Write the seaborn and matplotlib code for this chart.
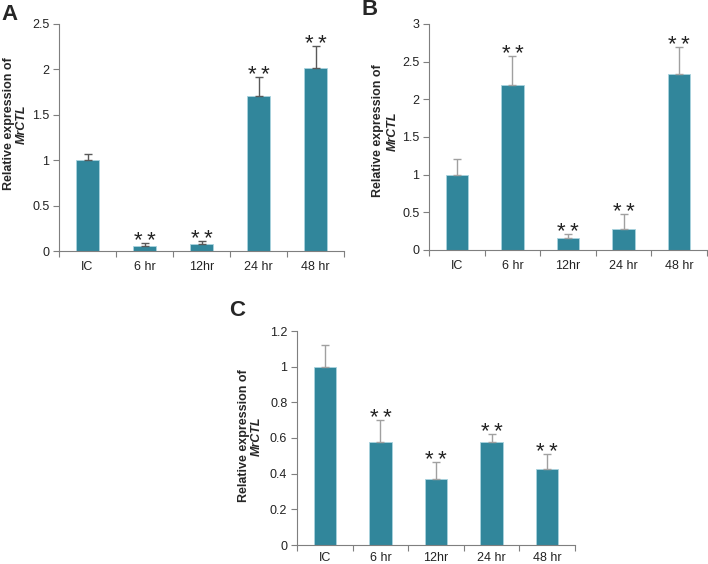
import numpy as np
import pandas as pd
import matplotlib
matplotlib.use("Agg")
import matplotlib.pyplot as plt
import seaborn as sns
from matplotlib.ticker import FixedLocator, FuncFormatter

sns.set_style("white")
plt.rcParams['font.family'] = ['Liberation Sans', 'DejaVu Sans']

categories = ["IC", "6 hr", "12hr", "24 hr", "48 hr"]

a_values = [1.0, 0.06, 0.075, 1.71, 2.01]
a_err = [0.07, 0.03, 0.03, 0.21, 0.25]
a_marks = ["", "**", "**", "**", "**"]
a_yticks = [0, 0.5, 1, 1.5, 2, 2.5]

b_values = [1.0, 2.19, 0.165, 0.283, 2.33]
b_err = [0.21, 0.39, 0.045, 0.20, 0.37]
b_marks = ["", "**", "**", "**", "**"]
b_yticks = [0, 0.5, 1, 1.5, 2, 2.5, 3]

c_values = [1.0, 0.58, 0.37, 0.58, 0.424]
c_err = [0.12, 0.123, 0.097, 0.044, 0.085]
c_marks = ["", "**", "**", "**", "**"]
c_yticks = [0, 0.2, 0.4, 0.6, 0.8, 1.0, 1.2]

panel_letters = ["A", "B", "C"]
ylabel_line1 = "Relative expression of"
ylabel_line2 = "MrCTL"

BAR = "#31869B"
W, H = 708, 564
fig = plt.figure(figsize=(W / 100, H / 100), dpi=100)


def px_axes(left, right, top, bottom):
    return fig.add_axes([left / W, 1 - bottom / H, (right - left) / W, (bottom - top) / H])


def panel(ax, values, err, marks, yticks, ecolor, letter, letter_xy, label_y, label_x, xpad=7):
    df = pd.DataFrame({"cat": categories, "val": values})
    sns.barplot(data=df, x="cat", y="val", color=BAR, saturation=1, width=0.4,
                errorbar=None, ax=ax, edgecolor="#a9d3df", linewidth=0.6)
    x = np.arange(len(categories))
    ax.errorbar(x, values, yerr=[np.zeros(len(values)), err], fmt="none",
                ecolor=ecolor, elinewidth=1.0, capsize=3, capthick=1.0, zorder=1)
    for xi, v, e, m in zip(x, values, err, marks):
        if m:
            ax.annotate("\u2009".join(m), xy=(xi, v + e), xytext=(0, -4),
                        textcoords="offset pixels", ha="center", va="baseline",
                        fontsize=16, color="#222222")
    ax.set_xlim(-0.5, len(categories) - 0.5)
    ax.set_ylim(yticks[0], yticks[-1])
    ax.set_yticks(yticks)
    ax.yaxis.set_major_formatter(FuncFormatter(lambda v, p: "%g" % v))
    ax.xaxis.set_minor_locator(FixedLocator(np.arange(-0.5, len(categories), 1.0)))
    ax.tick_params(axis="x", which="major", length=0, pad=xpad, labelsize=9, colors="#222222")
    ax.tick_params(axis="x", which="minor", length=4, width=0.8, color="#7f7f7f", bottom=True)
    ax.tick_params(axis="y", which="major", length=4, width=0.8, color="#7f7f7f", left=True,
                   pad=3, labelsize=9, labelcolor="#222222")
    for s in ["top", "right"]:
        ax.spines[s].set_visible(False)
    for s in ["left", "bottom"]:
        ax.spines[s].set_color("#7f7f7f")
        ax.spines[s].set_linewidth(0.8)
    ax.set_xlabel("")
    ax.set_ylabel("")
    fig.text(letter_xy[0] / W, 1 - letter_xy[1] / H, letter, fontsize=16, fontweight="bold",
             ha="left", va="top")
    fig.text(label_x[0] / W, 1 - label_y / H, ylabel_line1, rotation=90, fontsize=9,
             fontweight="bold", ha="center", va="center")
    fig.text(label_x[1] / W, 1 - label_y / H, ylabel_line2, rotation=90, fontsize=9,
             fontweight="bold", fontstyle="italic", ha="center", va="center")


axA = px_axes(59, 344, 24, 251)
panel(axA, a_values, a_err, a_marks, a_yticks, "#595959", panel_letters[0], (1, 4), 124, (9, 22))

axB = px_axes(429, 707, 24, 250)
panel(axB, b_values, b_err, b_marks, b_yticks, "#a0a0a0", panel_letters[1], (361, -1), 131, (378, 393))

axC = px_axes(297, 575, 331, 545)
panel(axC, c_values, c_err, c_marks, c_yticks, "#a0a0a0", panel_letters[2], (229, 300), 436, (244, 257),
      xpad=5)

fig.savefig("out.png", dpi=100)
